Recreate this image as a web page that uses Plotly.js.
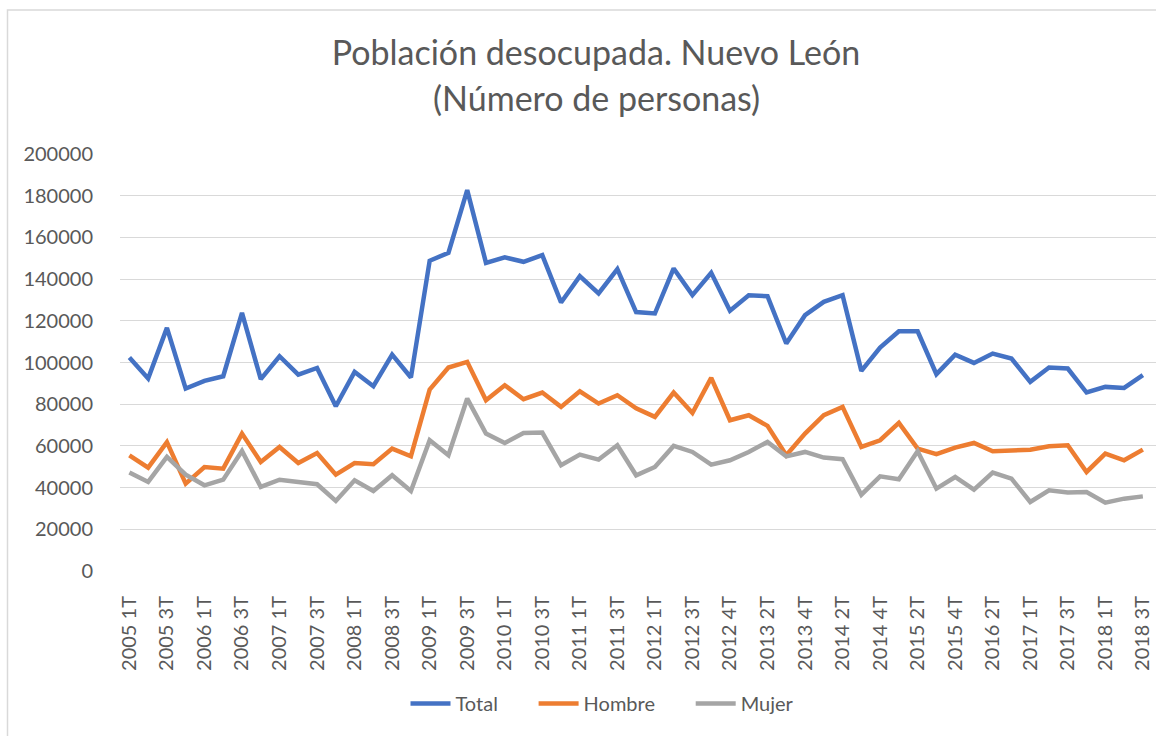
<!DOCTYPE html>
<html>
<head>
<meta charset="utf-8">
<script src="https://cdn.plot.ly/plotly-3.0.1.min.js"></script>
<style>html,body{margin:0;padding:0;background:#fff;overflow:hidden}#chart{width:1156px;height:736px}</style>
</head>
<body>
<div id="chart"></div>
<script>
const periodos = [
  "2005 1T","2005 2T","2005 3T","2005 4T",
  "2006 1T","2006 2T","2006 3T","2006 4T",
  "2007 1T","2007 2T","2007 3T","2007 4T",
  "2008 1T","2008 2T","2008 3T","2008 4T",
  "2009 1T","2009 2T","2009 3T","2009 4T",
  "2010 1T","2010 2T","2010 3T","2010 4T",
  "2011 1T","2011 2T","2011 3T","2011 4T",
  "2012 1T","2012 2T","2012 3T","2012 4T","2012 4T",
  "2013 1T","2013 2T","2013 3T","2013 4T",
  "2014 1T","2014 2T","2014 3T","2014 4T",
  "2015 1T","2015 2T","2015 3T","2015 4T",
  "2016 1T","2016 2T","2016 3T",
  "2017 1T","2017 2T","2017 3T","2017 4T",
  "2018 1T","2018 2T","2018 3T"
];
const total = [
  102400, 92300, 116600, 87500, 91200, 93400, 123800, 92000, 103000, 94200,
  97400, 79000, 95500, 88600, 103800, 92800, 148800, 152600, 182700, 147800,
  150400, 148300, 151500, 128800, 141400, 133100, 144800, 124200, 123500, 145100,
  132300, 143000, 124800, 132200, 131800, 109100, 122700, 129100, 132300, 96000,
  107200, 115000, 115000, 94400, 103800, 99800, 104300, 101900, 90700, 97600,
  97100, 85600, 88300, 87800, 93900
];
const hombre = [
  55500, 49600, 61800, 41900, 49900, 49100, 65900, 52300, 59500, 51800,
  56600, 46200, 51800, 51200, 58700, 55000, 87000, 97600, 100300, 81900,
  89100, 82400, 85600, 78700, 86200, 80300, 84300, 78000, 73900, 85600,
  75800, 92600, 72300, 74700, 69600, 55500, 65900, 74700, 78700, 59500,
  62700, 71000, 58700, 56000, 59200, 61400, 57400, 57600, 58200, 59800,
  60300, 47500, 56300, 53100, 58200
];
const mujer = [
  47200, 42700, 54700, 46200, 41100, 43800, 57600, 40300, 43800, 42700,
  41600, 33600, 43500, 38400, 45900, 38400, 62700, 55500, 82700, 65900,
  61400, 66200, 66400, 50700, 55800, 53400, 60300, 45900, 49900, 60000,
  57100, 51000, 53100, 57100, 61900, 55000, 57100, 54400, 53600, 36600,
  45400, 44000, 57400, 39500, 45100, 39000, 47200, 44300, 33100, 38700,
  37600, 37900, 32800, 34700, 35800
];
const series = [
  {name: "Total", values: total, color: "#4472C4"},
  {name: "Hombre", values: hombre, color: "#ED7D31"},
  {name: "Mujer", values: mujer, color: "#A5A5A5"}
];
const yTicks = [0, 20000, 40000, 60000, 80000, 100000, 120000, 140000, 160000, 180000, 200000];

const xIdx = periodos.map((_, i) => i);
const tickIdx = xIdx.filter(i => i % 2 === 0);
const pad = "\u00a0\u00a0\u00a0\u00a0\u00a0\u00a0";

const traces = series.map(s => ({
  type: "scatter",
  mode: "lines",
  name: s.name + pad,
  x: xIdx,
  y: s.values,
  line: {color: s.color, width: 4.5, shape: "linear"},
  hovertemplate: s.name + ": %{y}<extra></extra>"
}));

const txt = "#595959";
const fontFam = "Lato, 'Open Sans', sans-serif";

const layout = {
  width: 1156,
  height: 736,
  paper_bgcolor: "#ffffff",
  plot_bgcolor: "#ffffff",
  margin: {l: 120, r: 0, t: 154, b: 165.3, pad: 0},
  font: {family: fontFam, color: txt, size: 20},
  title: {
    text: "Población desocupada. Nuevo León",
    font: {family: fontFam, size: 34, color: txt},
    xref: "container", x: 596 / 1156, xanchor: "center",
    yref: "container", y: 1 - 53 / 736, yanchor: "middle"
  },
  annotations: [{
    text: "(Número de personas)",
    xref: "paper", yref: "paper",
    x: (596 - 120) / 1036, y: (570.7 - 98) / 416.7,
    xanchor: "center", yanchor: "middle",
    showarrow: false,
    font: {family: fontFam, size: 34, color: txt}
  }],
  xaxis: {
    type: "linear",
    range: [-0.5, 54.7],
    tickmode: "array",
    tickvals: tickIdx,
    ticktext: tickIdx.map(i => periodos[i]),
    tickangle: -90,
    ticks: "outside",
    ticklen: 16,
    tickcolor: "rgba(0,0,0,0)",
    ticklabeloverflow: "allow",
    showgrid: false,
    zeroline: false,
    showline: false,
    tickfont: {family: fontFam, size: 20, color: txt},
    fixedrange: true
  },
  yaxis: {
    range: [0, 200000],
    tickmode: "array",
    tickvals: yTicks,
    ticktext: yTicks.map(String),
    ticks: "outside",
    ticklen: 22,
    tickcolor: "rgba(0,0,0,0)",
    showgrid: true,
    gridcolor: "#d9d9d9",
    gridwidth: 1.3,
    zeroline: false,
    showline: false,
    tickfont: {family: fontFam, size: 20, color: txt},
    fixedrange: true
  },
  showlegend: true,
  legend: {
    orientation: "h",
    xref: "paper", yref: "paper",
    x: (617 - 120) / 1036, xanchor: "center",
    y: (570.7 - 703) / 416.7, yanchor: "middle",
    font: {family: fontFam, size: 20, color: txt},
    itemwidth: 40,
    tracegroupgap: 0,
    bgcolor: "rgba(0,0,0,0)"
  },
  shapes: [{
    type: "rect",
    xref: "paper", yref: "paper",
    x0: (7.5 - 120) / 1036, x1: 1.1,
    y0: -0.5, y1: (570.7 - 10) / 416.7,
    line: {color: "#d9d9d9", width: 1.5},
    fillcolor: "rgba(0,0,0,0)",
    layer: "below"
  }]
};

Plotly.newPlot("chart", traces, layout, {displayModeBar: false, responsive: false});
</script>
</body>
</html>
